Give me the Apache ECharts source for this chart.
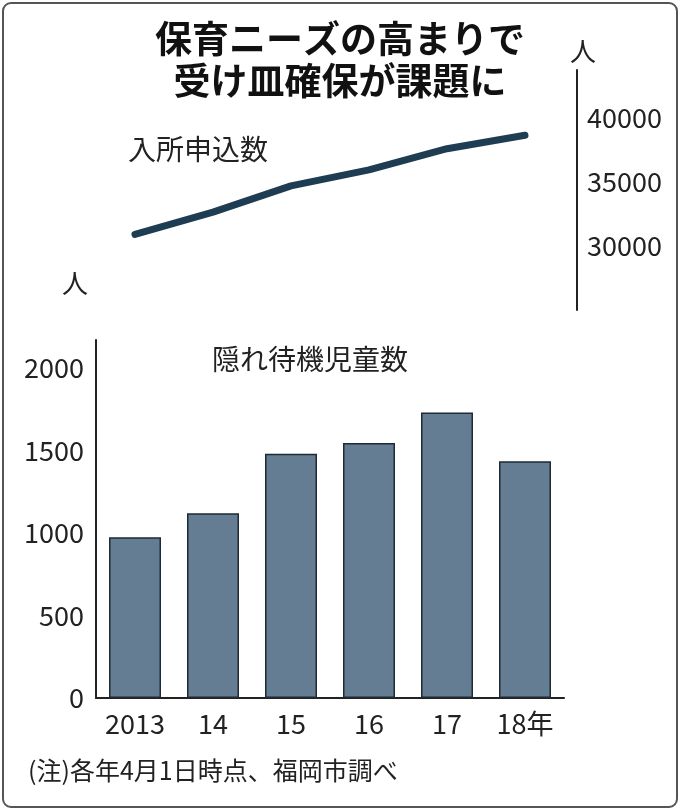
<!DOCTYPE html>
<html><head><meta charset="utf-8">
<script src="https://cdn.jsdelivr.net/npm/echarts@6/dist/echarts.min.js"></script>
<style>body{margin:0;background:#fff}#c{width:680px;height:810px}</style>
</head><body><div id="c"></div>
<script>
const categories = ['2013','14','15','16','17','18年'];
const waiting = [975, 1120, 1480, 1545, 1730, 1435];
const applications = [30900, 32650, 34700, 35950, 37600, 38650];
const waitingTicks = [0, 500, 1000, 1500, 2000];
const appTicks = [30000, 35000, 40000];
const F = '"Noto Sans CJK JP", "Noto Sans", sans-serif';
const chart = echarts.init(document.getElementById('c'));
chart.setOption({
  animation:false,
  backgroundColor:'#fff',
  grid:[{left:96,width:468,top:340,height:358},{left:96,width:468,top:70,height:240}],
  xAxis:[
    {gridIndex:0,type:'category',data:categories,axisLine:{lineStyle:{color:'#222',width:2}},axisTick:{show:false},
     axisLabel:{color:'#222',fontSize:27,fontFamily:F,margin:12}},
    {gridIndex:1,type:'category',data:categories,show:false}
  ],
  yAxis:[
    {gridIndex:0,type:'value',min:0,max:2170,interval:500,splitLine:{show:false},
     axisLine:{show:true,lineStyle:{color:'#222',width:2}},axisTick:{show:false},
     axisLabel:{color:'#222',fontSize:27,fontFamily:F,margin:12,
       formatter:v=>waitingTicks.includes(v)?String(v):''}},
    {gridIndex:1,type:'value',position:'right',offset:13,min:25000,max:43750,interval:5000,splitLine:{show:false},
     axisLine:{show:true,lineStyle:{color:'#222',width:2}},axisTick:{show:false},
     axisLabel:{color:'#222',fontSize:27,fontFamily:F,margin:10,
       formatter:v=>appTicks.includes(v)?String(v):''}}
  ],
  series:[
    {type:'bar',xAxisIndex:0,yAxisIndex:0,data:waiting,barWidth:52,
     itemStyle:{color:'#657d93',borderColor:'#1e2a35',borderWidth:1.5}},
    {type:'line',xAxisIndex:1,yAxisIndex:1,data:applications,symbol:'none',
     lineStyle:{color:'#1f3d52',width:7,cap:'round'}}
  ],
  graphic:[
    {type:'rect',shape:{x:3,y:3,width:674,height:804,r:8},style:{fill:'none',stroke:'#555',lineWidth:2}},
    {type:'text',left:'center',top:18,style:{text:'保育ニーズの高まりで\n受け皿確保が課題に',font:'bold 37px '+F,fill:'#111',textAlign:'center',lineHeight:42},x:-15},
    {type:'text',left:570,top:38,style:{text:'人',font:'26px '+F,fill:'#222'}},
    {type:'text',left:128,top:135,style:{text:'入所申込数',font:'28px '+F,fill:'#222'}},
    {type:'text',left:62,top:270,style:{text:'人',font:'26px '+F,fill:'#222'}},
    {type:'text',left:212,top:345,style:{text:'隠れ待機児童数',font:'28px '+F,fill:'#222'}},
    {type:'text',left:28,top:758,style:{text:'(注)各年4月1日時点、福岡市調べ',font:'25px '+F,fill:'#222'}}
  ]
});
</script></body></html>
